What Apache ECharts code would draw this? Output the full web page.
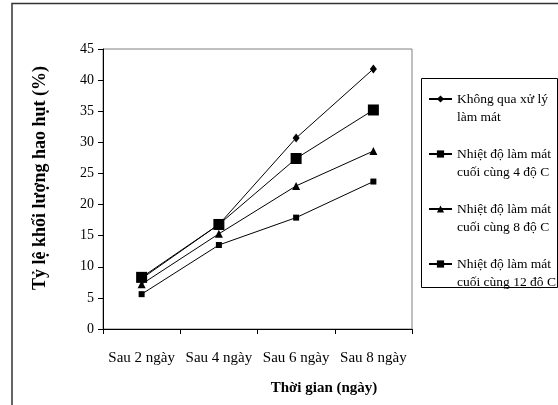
<!DOCTYPE html>
<html>
<head>
<meta charset="utf-8">
<script src="https://cdn.jsdelivr.net/npm/echarts@6/dist/echarts.min.js"></script>
<style>
  html, body { margin: 0; padding: 0; background: #fff; }
  #chart { width: 558px; height: 405px; }
</style>
</head>
<body>
<div id="chart"></div>
<script>
// Days after harvest
const categories = ['Sau 2 ngày', 'Sau 4 ngày', 'Sau 6 ngày', 'Sau 8 ngày'];

// Weight loss (%) per treatment
const noCooling = [8.1, 16.8, 30.7, 41.8];
const cool4C = [5.6, 13.5, 17.9, 23.7];
const cool8C = [7.2, 15.3, 23.0, 28.6];
const cool12C = [8.3, 16.8, 27.4, 35.2];

const seriesNames = [
  'Không qua xử lý\nlàm mát',
  'Nhiệt độ làm mát\ncuối cùng 4 độ C',
  'Nhiệt độ làm mát\ncuối cùng 8 độ C',
  'Nhiệt độ làm mát\ncuối cùng 12 độ C'
];

const yTicks = { min: 0, max: 45, interval: 5 };

const FONT = 'Liberation Serif';

function lineSeries(name, data, symbol, size) {
  return {
    name: name,
    type: 'line',
    data: data,
    symbol: symbol,
    symbolSize: size,
    showAllSymbol: true,
    lineStyle: { color: '#000', width: 1 },
    itemStyle: { color: '#000', borderWidth: 0 },
    emphasis: { disabled: true },
    animation: false
  };
}

const chart = echarts.init(document.getElementById('chart'), null, { renderer: 'canvas' });

chart.setOption({
  backgroundColor: '#fff',
  animation: false,
  textStyle: { fontFamily: FONT, color: '#000' },
  grid: {
    left: 103, top: 49, right: 146, bottom: 76,
    show: true, borderColor: '#808080', borderWidth: 1,
    backgroundColor: 'transparent'
  },
  xAxis: {
    type: 'category',
    data: categories,
    boundaryGap: true,
    axisLine: { lineStyle: { color: '#000', width: 1 } },
    axisTick: { show: true, inside: false, length: 5, lineStyle: { color: '#000' } },
    axisLabel: {
      fontFamily: FONT, fontSize: 15, color: '#000', margin: 22,
      interval: 0, hideOverlap: false
    },
    splitLine: { show: false }
  },
  yAxis: {
    type: 'value',
    min: yTicks.min, max: yTicks.max, interval: yTicks.interval,
    axisLine: { show: true, lineStyle: { color: '#000', width: 1 } },
    axisTick: { show: true, inside: false, length: 5, lineStyle: { color: '#000' } },
    axisLabel: { fontFamily: FONT, fontSize: 14, color: '#000', margin: 9 },
    splitLine: { show: false }
  },
  legend: {
    orient: 'vertical',
    left: 428, top: 72,
    padding: 0,
    itemWidth: 23, itemHeight: 9,
    itemGap: 1,
    data: seriesNames,
    selectedMode: false,
    // leading blank line puts the first text line level with the icon
    formatter: function (name) { return '\n' + name; },
    textStyle: {
      fontFamily: FONT, fontSize: 13.5, color: '#000',
      lineHeight: 18
    }
  },
  graphic: [
    {
      type: 'rect',
      shape: { x: 421.5, y: 78.5, width: 136, height: 209 },
      style: { fill: 'none', stroke: '#000', lineWidth: 1 },
      silent: true
    },
    {
      type: 'polyline',
      shape: { points: [[12, 405], [12, 3.5], [558, 3.5]] },
      style: { fill: 'none', stroke: '#333', lineWidth: 1.5 },
      silent: true
    },
    {
      type: 'text',
      x: 40, y: 178,
      rotation: Math.PI / 2,
      style: {
        text: 'Tỷ lệ khối lượng hao hụt (%)',
        fontFamily: FONT, fontSize: 18, fontWeight: 'bold', fill: '#000',
        align: 'center', verticalAlign: 'middle'
      },
      silent: true
    },
    {
      type: 'text',
      x: 324, y: 388,
      style: {
        text: 'Thời gian (ngày)',
        fontFamily: FONT, fontSize: 15, fontWeight: 'bold', fill: '#000',
        align: 'center', verticalAlign: 'middle'
      },
      silent: true
    }
  ],
  series: [
    lineSeries(seriesNames[0], noCooling, 'diamond', [7, 9]),
    lineSeries(seriesNames[1], cool4C, 'rect', 6),
    lineSeries(seriesNames[2], cool8C, 'triangle', 8),
    lineSeries(seriesNames[3], cool12C, 'rect', 11)
  ]
});
</script>
</body>
</html>
